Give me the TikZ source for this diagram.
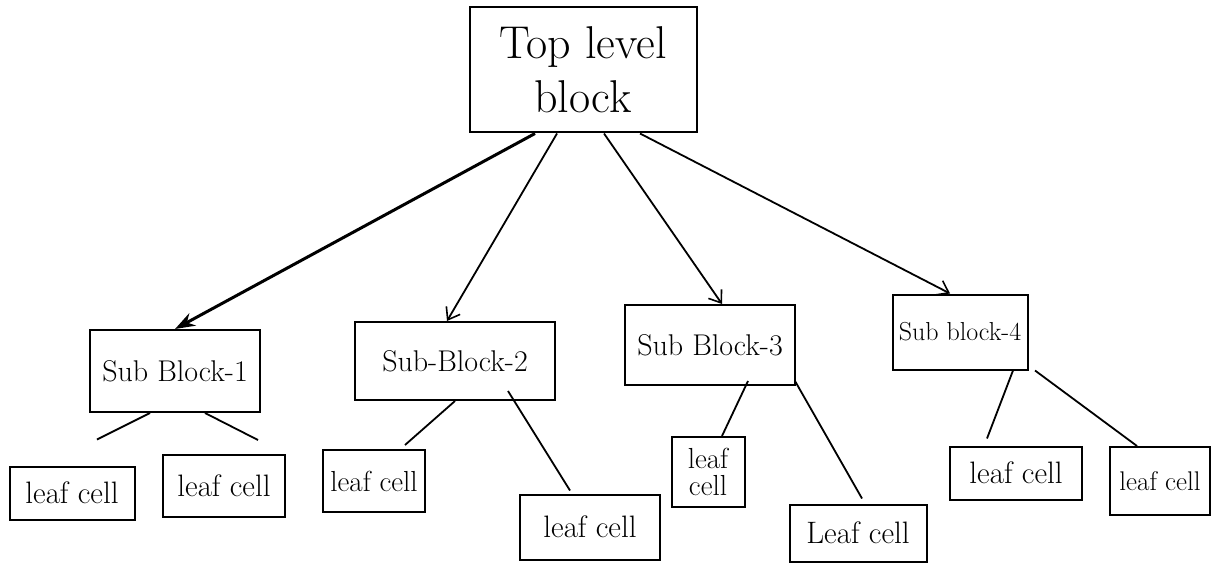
\documentclass[tikz,border=0pt]{standalone}
\usetikzlibrary{arrows.meta,calc}
\begin{document}
\begin{tikzpicture}[x=1pt,y=-1pt,
  blk/.style={draw,line width=2pt,inner sep=0pt,align=center},
  topbox/.style={blk,minimum width=227pt,minimum height=125pt,font=\fontsize{46}{54}\selectfont},
  subbox/.style={blk,font=\fontsize{30}{34}\selectfont},
  leafbox/.style={blk,font=\fontsize{31}{31}\selectfont},
  link/.style={line width=1.8pt},
  barb/.style={link,-{Straight Barb[length=11pt,width=16pt,line width=1.6pt]}},
  heavy/.style={line width=3pt,-{Stealth[length=20pt,width=14pt]}}]
\useasboundingbox (0,0) rectangle (1215,567);

% top-level block
\node[topbox] (top) at (583,70) {Top level\\block};

% sub blocks
\node[subbox,minimum width=170pt,minimum height=82pt] (sb1) at (175,371) {Sub Block-1};
\node[subbox,minimum width=200pt,minimum height=78pt] (sb2) at (455,361) {Sub-Block-2};
\node[subbox,minimum width=170pt,minimum height=80pt] (sb3) at (710,345) {Sub Block-3};
\node[subbox,minimum width=135pt,minimum height=75pt,font=\fontsize{26}{30}\selectfont] (sb4) at (960,332) {Sub block-4};

% leaf cells
\node[leafbox,minimum width=125pt,minimum height=53pt] (l1) at (72,493) {leaf cell};
\node[leafbox,minimum width=122pt,minimum height=62pt] (l2) at (224,486) {leaf cell};
\node[leafbox,minimum width=102pt,minimum height=62pt,font=\fontsize{29}{29}\selectfont] (l3) at (374,481) {leaf cell};
\node[leafbox,minimum width=140pt,minimum height=65pt] (l4) at (590,527) {leaf cell};
\node[leafbox,minimum width=73pt,minimum height=70pt,font=\fontsize{29}{27}\selectfont] (l5) at (708,472) {leaf\\cell};
\node[leafbox,minimum width=137pt,minimum height=57pt] (l6) at (858,533) {Leaf cell};
\node[leafbox,minimum width=132pt,minimum height=53pt] (l7) at (1016,473) {leaf cell};
\node[leafbox,minimum width=100pt,minimum height=68pt,font=\fontsize{27}{27}\selectfont] (l8) at (1160,481) {leaf cell};

% top block to sub blocks
\draw[heavy] ($(top.south)+(-48,0)$) -- (sb1.north);
\draw[barb] ($(top.south)+(-26,0)$) -- ($(sb2.north)+(-8,0)$);
\draw[barb] ($(top.south)+(21,0)$) -- ($(sb3.north)+(12,0)$);
\draw[barb] ($(top.south)+(57,0)$) -- ($(sb4.north)+(-10,0)$);

% sub blocks to leaf cells
\draw[link] ($(sb1.south)+(-25,0)$) -- ($(l1.north)+(25,-26)$);
\draw[link] ($(sb1.south)+(30,0)$) -- ($(l2.north)+(34,-14)$);
\draw[link] ($(sb2.south)+(0,0)$) -- ($(l3.north)+(31,-4)$);
\draw[link] ($(sb2.south)+(53,-10)$) -- ($(l4.north)+(-20,-3)$);
\draw[link] ($(sb3.south)+(38,-5)$) -- ($(l5.north)+(14,0)$);
\draw[link] ($(sb3.south)+(85,-5)$) -- ($(l6.north)+(4,-5)$);
\draw[link] ($(sb4.south)+(53,0)$) -- ($(l7.north)+(-29,-7)$);
\draw[link] ($(sb4.south)+(75,0)$) -- ($(l8.north)+(-23,0)$);
\end{tikzpicture}
\end{document}
